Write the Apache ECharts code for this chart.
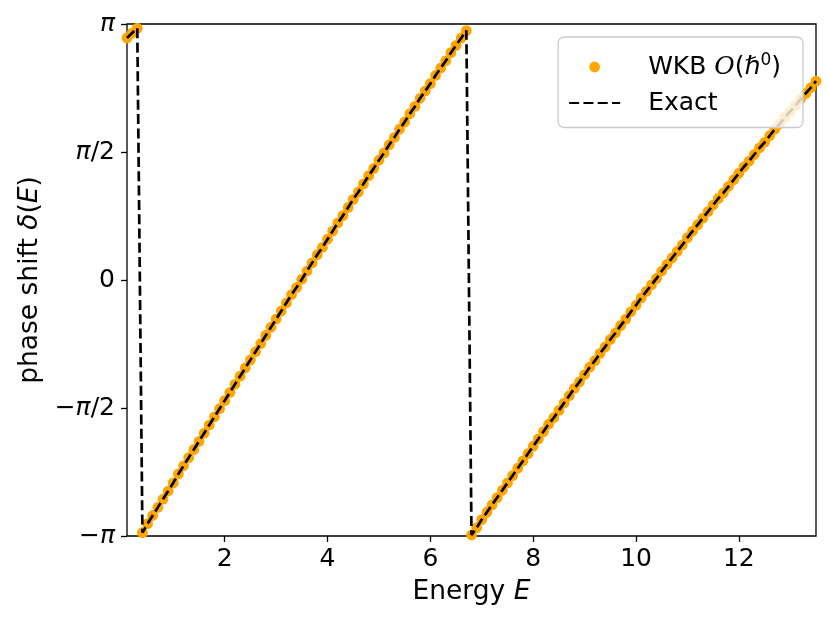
<!DOCTYPE html>
<html><head><meta charset="utf-8">
<script src="https://cdn.jsdelivr.net/npm/echarts@6/dist/echarts.min.js"></script>
<style>html,body{margin:0;padding:0;background:#fff}#c{width:830px;height:625px}</style>
</head><body><div id="c"></div>
<script>
// Energy samples E
const energy = [
  0.1,0.2,0.3,0.4,0.5,0.6,0.7,0.8,0.9,1.0,
  1.1,1.2,1.3,1.4,1.5,1.6,1.7,1.8,1.9,2.0,
  2.1,2.2,2.3,2.4,2.5,2.6,2.7,2.8,2.9,3.0,
  3.1,3.2,3.3,3.4,3.5,3.6,3.7,3.8,3.9,4.0,
  4.1,4.2,4.3,4.4,4.5,4.6,4.7,4.8,4.9,5.0,
  5.1,5.2,5.3,5.4,5.5,5.6,5.7,5.8,5.9,6.0,
  6.1,6.2,6.3,6.4,6.5,6.6,6.7,6.8,6.9,7.0,
  7.1,7.2,7.3,7.4,7.5,7.6,7.7,7.8,7.9,8.0,
  8.1,8.2,8.3,8.4,8.5,8.6,8.7,8.8,8.9,9.0,
  9.1,9.2,9.3,9.4,9.5,9.6,9.7,9.8,9.9,10.0,
  10.1,10.2,10.3,10.4,10.5,10.6,10.7,10.8,10.9,11.0,
  11.1,11.2,11.3,11.4,11.5,11.6,11.7,11.8,11.9,12.0,
  12.1,12.2,12.3,12.4,12.5,12.6,12.7,12.8,12.9,13.0,
  13.1,13.2,13.3,13.4,13.5
];
// WKB O(hbar^0) phase shift
const phaseWKB = [
  2.97,3.03,3.09,-3.10,-2.99,-2.89,-2.79,-2.69,-2.59,-2.49,
  -2.38,-2.28,-2.18,-2.08,-1.98,-1.88,-1.78,-1.68,-1.58,-1.48,
  -1.38,-1.28,-1.18,-1.08,-0.98,-0.88,-0.78,-0.68,-0.58,-0.48,
  -0.38,-0.28,-0.18,-0.09,0.01,0.11,0.21,0.31,0.40,0.50,
  0.60,0.70,0.79,0.89,0.99,1.08,1.18,1.28,1.37,1.47,
  1.56,1.66,1.75,1.85,1.94,2.04,2.13,2.23,2.32,2.41,
  2.51,2.60,2.69,2.79,2.88,2.97,3.06,-3.13,-3.04,-2.94,
  -2.85,-2.76,-2.67,-2.58,-2.49,-2.40,-2.31,-2.22,-2.13,-2.04,
  -1.95,-1.86,-1.77,-1.69,-1.60,-1.51,-1.42,-1.33,-1.25,-1.16,
  -1.07,-0.99,-0.90,-0.82,-0.73,-0.65,-0.56,-0.48,-0.39,-0.31,
  -0.22,-0.14,-0.06,0.02,0.11,0.19,0.27,0.35,0.43,0.52,
  0.60,0.68,0.76,0.84,0.92,1.00,1.07,1.15,1.23,1.31,
  1.39,1.46,1.54,1.62,1.69,1.77,1.85,1.92,2.00,2.07,
  2.14,2.22,2.29,2.36,2.44
];
// Exact phase shift: coincides with the WKB values at this resolution
const phaseExact = phaseWKB.slice();

const xTickValues = [2, 4, 6, 8, 10, 12];
const xTickLabels = ['2', '4', '6', '8', '10', '12'];
const yTickValues = [-Math.PI, -Math.PI / 2, 0, Math.PI / 2, Math.PI];
const yTickLabels = ['\u2212\u03C0', '\u2212\u03C0/2', '0', '\u03C0/2', '\u03C0'];

const FONT = 'DejaVu Sans';
const FS = 25;
const NFS = 26.5;

const chart = echarts.init(document.getElementById('c'), null, {renderer: 'canvas'});
const wkbName = 'WKB O(\u210F0)';
const option = {
  animation: false,
  backgroundColor: '#ffffff',
  grid: {left: 127, right: 14, top: 24, bottom: 89, show: true, borderColor: '#000', borderWidth: 1.3, backgroundColor: 'transparent'},
  legend: {
    orient: 'vertical', right: 27, top: 37,
    padding: [15, 22, 12, 10],
    itemWidth: 51, itemHeight: 10.8, itemGap: 11,
    backgroundColor: 'rgba(255,255,255,0.8)', borderColor: '#cccccc', borderWidth: 1.3, borderRadius: 6,
    data: [
      {name: wkbName},
      {name: 'Exact', itemStyle: {color: 'rgba(0,0,0,0)', borderWidth: 0, opacity: 0}}
    ],
    formatter: function (n) {
      return n === 'Exact' ? '{t|Exact}' : '{t|WKB }{o|O}{t|(}{h|\u210F}{s|0}{t|)}';
    },
    textStyle: {
      fontFamily: FONT, fontSize: FS, color: '#000', padding: [0, 0, 0, 23],
      rich: {
        t: {fontFamily: FONT, fontSize: FS, color: '#000', lineHeight: 30},
        o: {fontFamily: 'DejaVu Serif', fontStyle: 'italic', fontSize: FS, color: '#000', lineHeight: 30},
        h: {fontFamily: FONT, fontStyle: 'italic', fontSize: FS, color: '#000', lineHeight: 30},
        s: {fontFamily: FONT, fontSize: 17, color: '#000', lineHeight: 17, verticalAlign: 'top'}
      }
    }
  },
  xAxis: {
    type: 'value', min: 0.1, max: 13.5,
    name: 'Energy {i|E}', nameLocation: 'middle', nameGap: 43,
    nameTextStyle: {fontFamily: FONT, fontSize: NFS, color: '#000',
      rich: {i: {fontFamily: FONT, fontSize: NFS, fontStyle: 'italic', color: '#000'}}},
    axisLine: {show: false, onZero: false}, splitLine: {show: false},
    axisTick: {show: true, length: 6, lineStyle: {color: '#000', width: 1.3}, customValues: xTickValues},
    axisLabel: {fontFamily: FONT, fontSize: FS, color: '#000', margin: 11, customValues: xTickValues,
      formatter: function (v) { const i = xTickValues.indexOf(v); return i >= 0 ? xTickLabels[i] : ''; }}
  },
  yAxis: {
    type: 'value', min: -Math.PI, max: Math.PI, interval: Math.PI / 2,
    name: 'phase shift {i|\u03B4}({i|E})', nameLocation: 'middle', nameGap: 82,
    nameTextStyle: {fontFamily: FONT, fontSize: NFS, color: '#000',
      rich: {i: {fontFamily: FONT, fontSize: NFS, fontStyle: 'italic', color: '#000'}}},
    axisLine: {show: false, onZero: false}, splitLine: {show: false},
    axisTick: {show: true, length: 6, lineStyle: {color: '#000', width: 1.3}},
    axisLabel: {fontFamily: FONT, fontSize: FS, color: '#000', margin: 12,
      rich: {i: {fontFamily: FONT, fontSize: FS, fontStyle: 'italic', color: '#000'}, n: {fontFamily: FONT, fontSize: FS, color: '#000'}},
      formatter: function (v) {
        let best = 0, d = Infinity;
        yTickValues.forEach(function (t, k) { if (Math.abs(t - v) < d) { d = Math.abs(t - v); best = k; } });
        const s = yTickLabels[best];
        return s.split('\u03C0').map(function (p) { return p ? '{n|' + p + '}' : ''; }).join('{i|\u03C0}');
      }}
  },
  series: [
    {
      name: wkbName, type: 'scatter', z: 2,
      data: energy.map(function (e, i) { return [e, phaseWKB[i]]; }),
      symbol: 'circle', symbolSize: 10.8,
      itemStyle: {color: '#FFA500', opacity: 1}
    },
    {
      name: 'Exact', type: 'line', z: 3,
      data: energy.map(function (e, i) { return [e, phaseExact[i]]; }),
      symbol: 'none', showSymbol: false,
      itemStyle: {color: '#000'},
      lineStyle: {color: '#000', width: 2.7, type: [10, 4.3]}
    }
  ]
};
chart.setOption(option);
</script>
</body></html>
